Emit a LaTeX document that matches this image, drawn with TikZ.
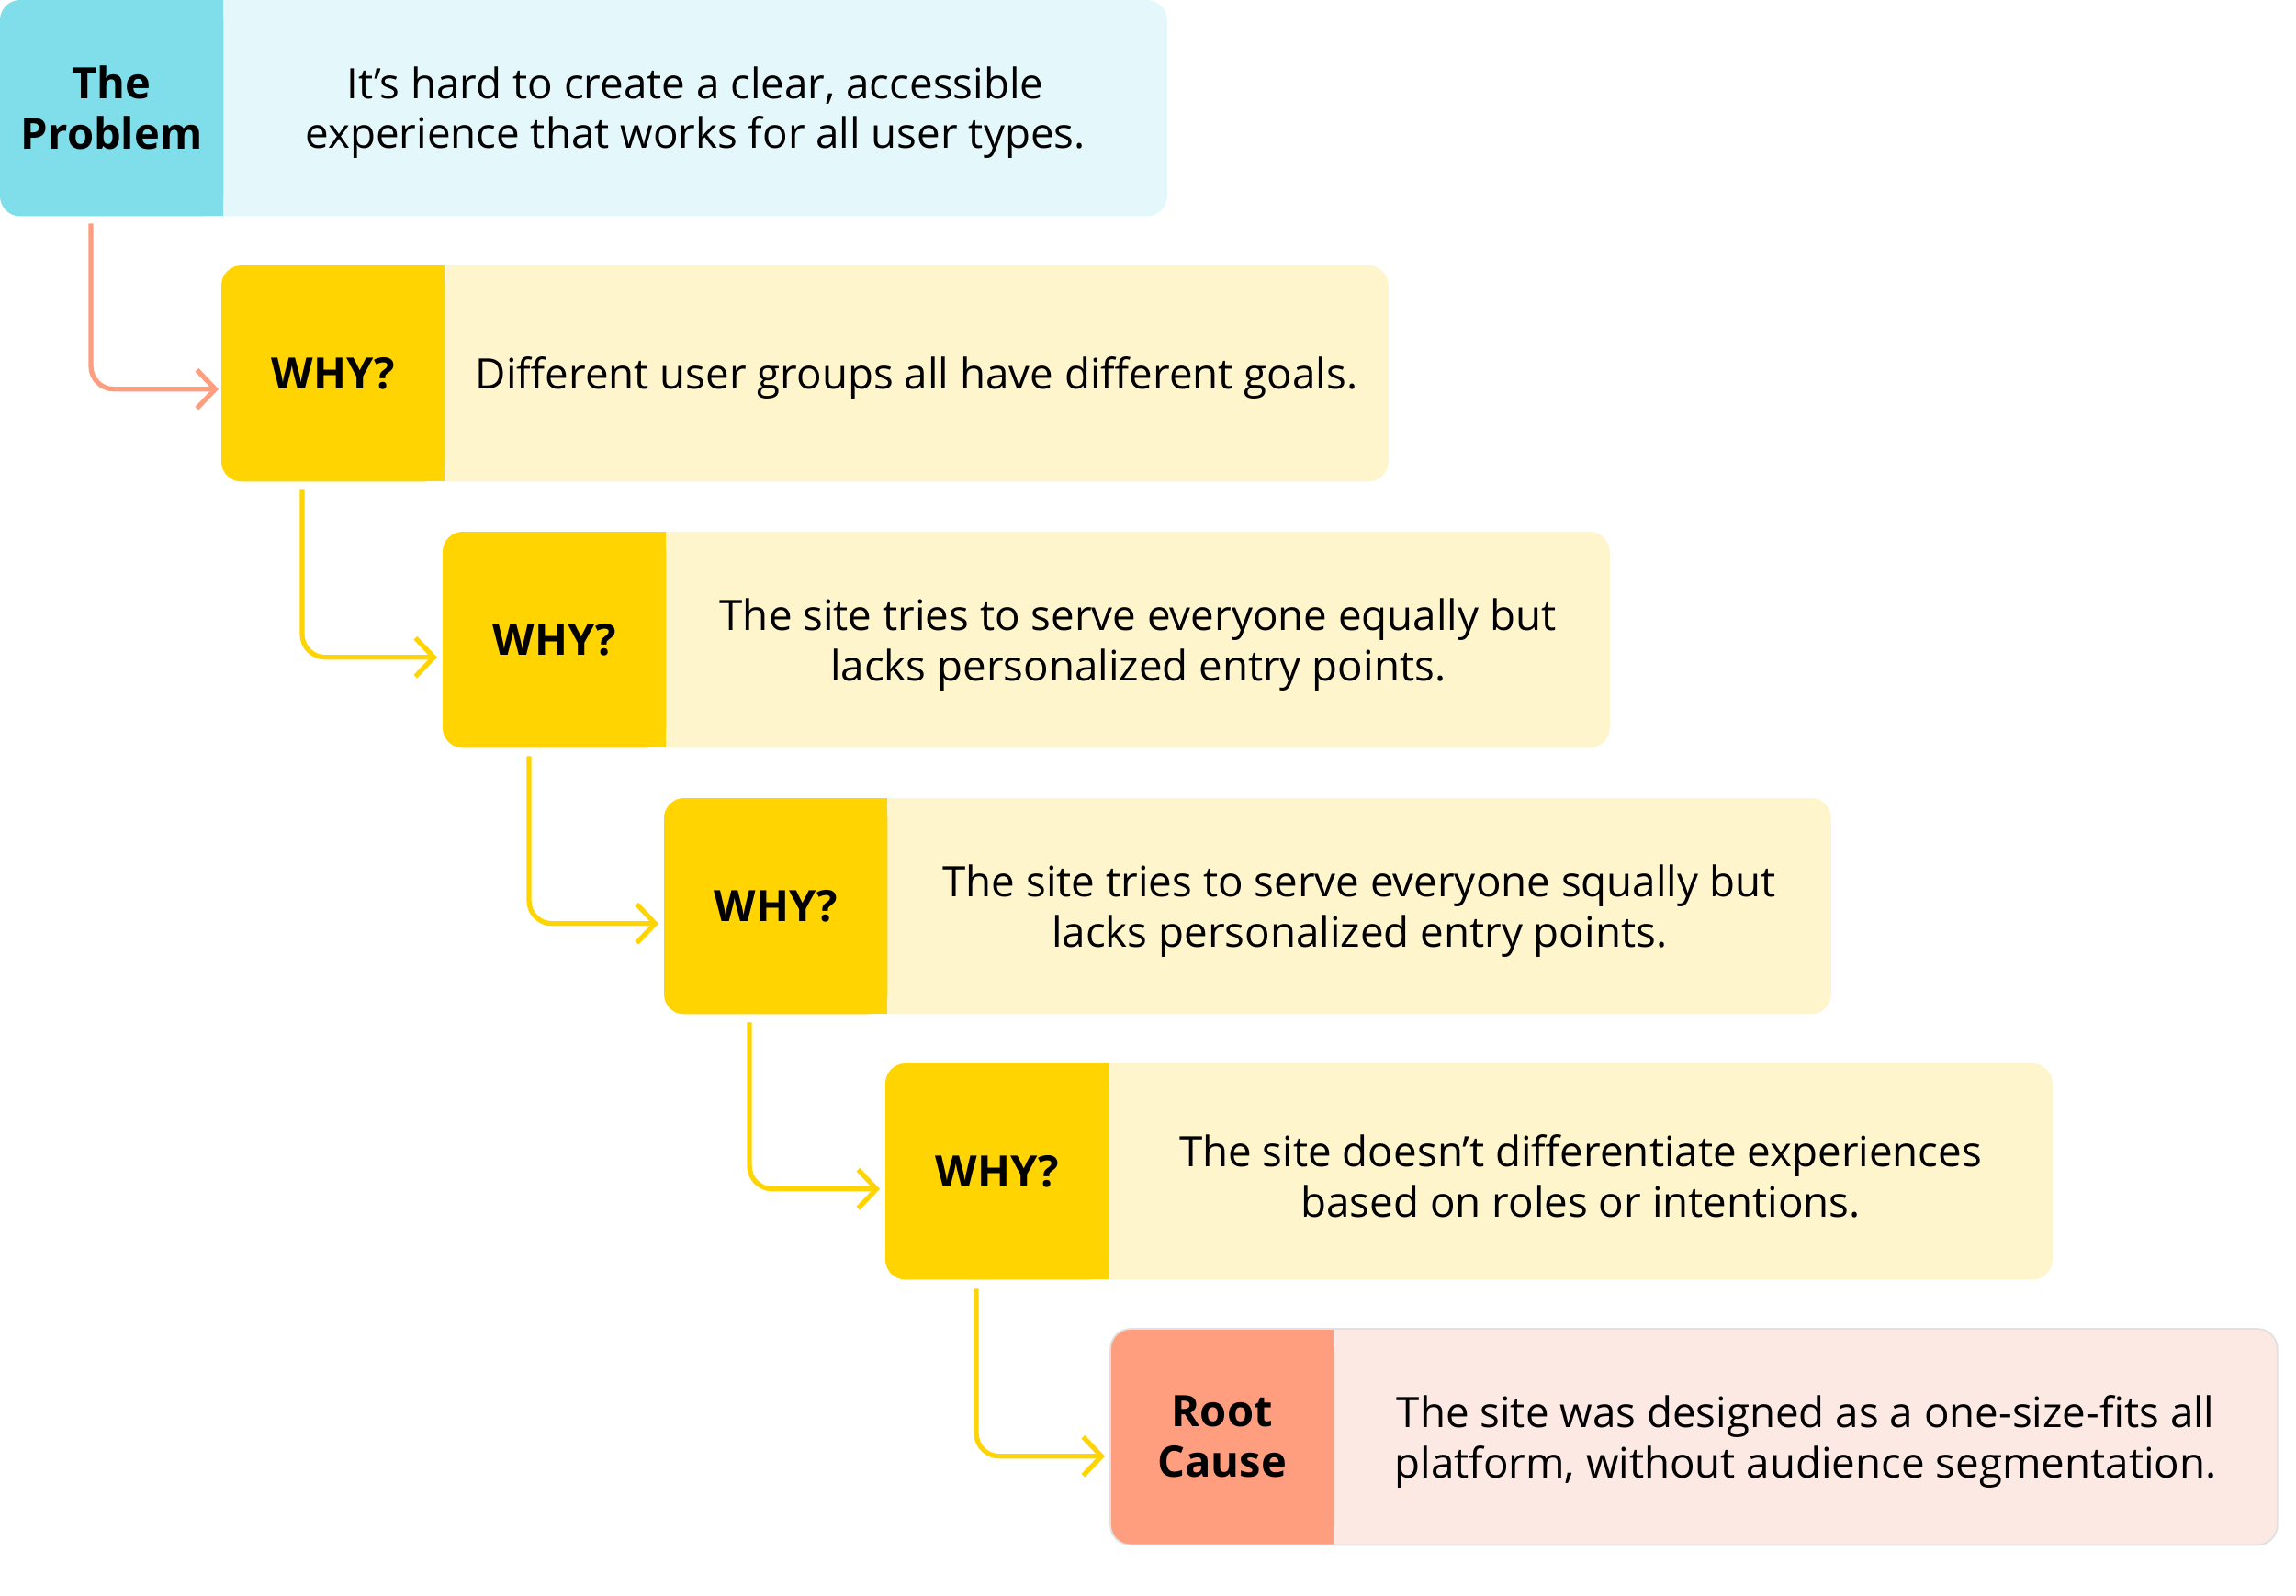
\documentclass[tikz,border=0pt]{standalone}
\usepackage{fontspec}
\setmainfont{Open Sans}
\usetikzlibrary{arrows.meta,calc,backgrounds}
\definecolor{cyanD}{HTML}{80DEEA}
\definecolor{cyanL}{HTML}{E4F7FB}
\definecolor{yelD}{HTML}{FFD400}
\definecolor{yelL}{HTML}{FFF5CD}
\definecolor{salD}{HTML}{FF9E7F}
\definecolor{salL}{HTML}{FDE9E3}
\tikzset{
  lab/.style={anchor=north west, minimum width=2.42cm, minimum height=2.34cm, inner sep=0pt, align=center,
    font=\fontsize{13.4}{15.6}\selectfont\bfseries},
  txt/.style={anchor=north west, minimum width=10.26cm, minimum height=2.34cm, inner sep=0pt, align=center,
    font=\fontsize{13}{15.6}\selectfont},
  txtin/.style={anchor=center, inner sep=0pt, align=center, yshift=-0.05cm,
    font=\fontsize{13}{15.6}\selectfont},
  conn/.style={line width=1.5pt, rounded corners=0.25cm, -{Straight Barb[length=0.2cm,width=0.42cm]}},
}
\newcommand\whybox[6]{%
  \node[lab] (#1l) at (#2) {#5};
  \node[txt] (#1t) at (#1l.north east) {};
  \node[txtin] (#1x) at (#1t.center) {#6};
  \begin{scope}[on background layer]
    \fill[#4, rounded corners=0.22cm] (#1l.north west) rectangle (#1t.south east);
    \fill[#3, rounded corners=0.22cm] (#1l.north west) rectangle (#1l.south east);
    \fill[#3] ($(#1l.north east)+(-0.3,0)$) rectangle (#1l.south east);
  \end{scope}
}
\begin{document}
\begin{tikzpicture}
\useasboundingbox (0,0) rectangle (25,-17.37);
\whybox{a}{0,0}{cyanD}{cyanL}{The\\Problem}{It’s hard to create a clear, accessible\\experience that works for all user types.}
\whybox{b}{2.41,-2.89}{yelD}{yelL}{WHY?}{Different user groups all have different goals.}
\whybox{c}{4.82,-5.79}{yelD}{yelL}{WHY?}{The site tries to serve everyone equally but\\lacks personalized entry points.}
\whybox{d}{7.23,-8.69}{yelD}{yelL}{WHY?}{The site tries to serve everyone squally but\\lacks personalized entry points.}
\whybox{e}{9.64,-11.58}{yelD}{yelL}{WHY?}{The site doesn’t differentiate experiences\\based on roles or intentions.}
\whybox{f}{12.09,-14.47}{salD}{salL}{Root\\Cause}{The site was designed as a one-size-fits all\\platform, without audience segmentation.}
\begin{scope}[on background layer]
\draw[black!12, line width=0.5pt, rounded corners=0.22cm] (fl.north west) rectangle (ft.south east);
\end{scope}
\draw[conn, salD] ($(al.south west)+(0.99,-0.08)$) |- ($(bl.west)+(-0.03,-0.17)$);
\draw[conn, yelD] ($(bl.south west)+(0.88,-0.09)$) |- ($(cl.west)+(-0.06,-0.19)$);
\draw[conn, yelD] ($(cl.south west)+(0.94,-0.09)$) |- ($(dl.west)+(-0.06,-0.19)$);
\draw[conn, yelD] ($(dl.south west)+(0.93,-0.09)$) |- ($(el.west)+(-0.06,-0.19)$);
\draw[conn, yelD] ($(el.south west)+(0.99,-0.1)$) |- ($(fl.west)+(-0.06,-0.21)$);
\end{tikzpicture}
\end{document}
